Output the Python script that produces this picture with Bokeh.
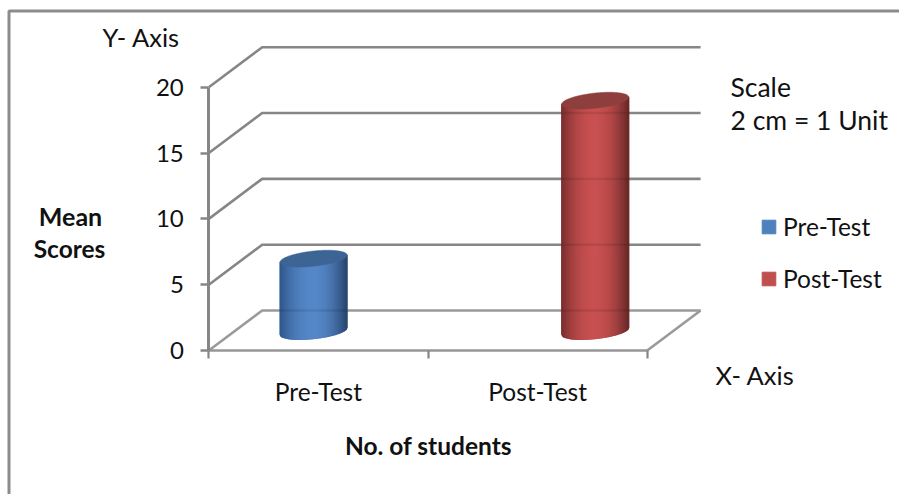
from bokeh.core.properties import value
from bokeh.embed import file_html
from bokeh.models import FixedTicker, Legend, LegendItem, Range1d
from bokeh.plotting import figure
from bokeh.resources import INLINE

# Chart values
categories = ["Pre-Test", "Post-Test"]
mean_scores = [5.5, 17.5]
y_ticks = [0, 5, 10, 15, 20]
bar_slots = [0.478, 1.763]
body_centre = [(85, 135, 200), (200, 80, 80)]
body_left = [(45, 85, 135), (120, 45, 45)]
body_right = [(40, 70, 110), (105, 40, 40)]
cap_colors = ["#3c6595", "#8e3e3c"]
swatch_colors = ["#4f81bd", "#c0504d"]

W, H = 899, 494
FONT = "Lato"
GRID = "#868686"
X0_PX, Y0_PX = 208.3, 350.0     # origin of the front plane
X_UNIT, Y_UNIT = 219.2, 13.165  # pixels per category and per score point
DX, DY = 53.4 / X_UNIT, 40.0 / Y_UNIT  # receding depth of the box


def dx(px):
    return (px - X0_PX) / X_UNIT


def dy(py):
    return (Y0_PX - py) / Y_UNIT


p = figure(width=W, height=H, output_backend="svg", toolbar_location=None,
           x_range=Range1d(dx(0), dx(W)), y_range=Range1d(dy(H), dy(0)),
           min_border=0, outline_line_color=None, background_fill_color="white")
p.grid.visible = False

# Frame around the chart area: only top and left sides are on the page
p.line([dx(8.5), dx(8.5), dx(W)], [dy(H), dy(10.5), dy(10.5)], line_color="#8c8c8c", line_width=3)

# Back wall gridlines and the diagonal wall returns
for v in y_ticks:
    p.line([0, DX, 2 + DX], [v, v + DY, v + DY], line_color=GRID if v else "#9a9a9a", line_width=2.6)
p.line([2, 2 + DX], [0, DY], line_color="#9a9a9a", line_width=2.6)

# Front axes, drawn inside the frame at the data origin
yax = p.yaxis[0]
yax.fixed_location = 0
yax.bounds = (0, 20)
yax.ticker = FixedTicker(ticks=y_ticks)
yax.axis_line_color = GRID
yax.axis_line_width = 3
yax.major_tick_line_color = GRID
yax.major_tick_line_width = 2.5
yax.major_tick_out = 8
yax.major_tick_in = 0
yax.minor_tick_out = 0
yax.minor_tick_in = 0
yax.major_label_standoff = 17
yax.major_label_text_font = FONT
yax.major_label_text_font_size = "24px"
yax.major_label_text_color = "#111111"

xax = p.xaxis[0]
xax.fixed_location = 0
xax.bounds = (0, 2)
xax.ticker = FixedTicker(ticks=[0.5, 1.5], minor_ticks=[0, 1, 2])
xax.major_label_overrides = {0.5: categories[0], 1.5: categories[1]}
xax.axis_line_color = "#969696"
xax.axis_line_width = 2.4
xax.major_tick_out = 0
xax.major_tick_in = 0
xax.minor_tick_line_color = GRID
xax.minor_tick_line_width = 2.2
xax.minor_tick_out = 8
xax.minor_tick_in = 0
xax.major_label_standoff = 18
xax.major_label_text_font = FONT
xax.major_label_text_font_size = "24.5px"
xax.major_label_text_color = "#111111"

# Shaded cylinders, built from thin vertical strips
A = 33.5 / X_UNIT       # half width
B = 7.6 / Y_UNIT        # half height of the cap
TILT = 3.5 / Y_UNIT     # rise of the cap towards its right edge
FLOOR = 1.48            # the bars stand in the middle of the floor
N = 67


def mix(a, b, t):
    return tuple(round(a[i] + (b[i] - a[i]) * t) for i in range(3))


for i, score in enumerate(mean_scores):
    xs, ys, colors = [], [], []
    for k in range(N):
        u0, u1 = -1 + 2 * k / N, -1 + 2 * (k + 1) / N
        um = (u0 + u1) / 2
        edge = body_left[i] if um < 0 else body_right[i]
        c = mix(body_centre[i], edge, abs(um) ** 2.0)
        lo = [FLOOR + TILT * u - B * (1 - u * u) ** 0.5 for u in (u0, u1)]
        hi = [FLOOR + score + TILT * u for u in (u1, u0)]
        xs.append([bar_slots[i] + A * u for u in (u0, u1, u1, u0)])
        ys.append(lo + hi)
        colors.append("#%02x%02x%02x" % c)
    p.patches(xs, ys, fill_color=colors, line_color=colors, line_width=1.3)

    # Cap of the cylinder
    cap_x, cap_y = [], []
    for k in range(2 * N):
        u = -1 + 2 * k / (2 * N - 1)
        cap_x.append(bar_slots[i] + A * u)
        cap_y.append(FLOOR + score + TILT * u + B * (1 - u * u) ** 0.5)
    for k in range(2 * N):
        u = 1 - 2 * k / (2 * N - 1)
        cap_x.append(bar_slots[i] + A * u)
        cap_y.append(FLOOR + score + TILT * u - B * (1 - u * u) ** 0.5)
    p.patch(cap_x, cap_y, fill_color=cap_colors[i], line_color=cap_colors[i], line_width=0.5)

    # Gridlines show faintly through the body
    for v in y_ticks:
        level = v + DY
        if FLOOR + TILT < level < FLOOR + score - TILT:
            p.line([bar_slots[i] - A, bar_slots[i] + A], [level, level],
                   line_color="#000000", line_alpha=0.09, line_width=2.4)

# Legend keys: the quads sit beyond the visible range, only their swatches appear
keys = [p.quad(left=[50], right=[51], top=[51], bottom=[50], fill_color=c, line_color=c)
        for c in swatch_colors]
legend = Legend(items=[LegendItem(label=categories[i], renderers=[keys[i]]) for i in range(2)],
                location=(752, H - 301), orientation="vertical", glyph_width=17, glyph_height=17,
                spacing=23, label_text_font=FONT, label_text_font_size="24.5px",
                label_text_color="#111111", label_standoff=6, padding=8, margin=0,
                background_fill_alpha=0, border_line_alpha=0, label_height=26)
p.add_layout(legend, "center")

# Free-standing captions
notes = [
    ("Y- Axis", 102, 36, "normal", "left", "25.5px"),
    ("Scale", 730, 86, "normal", "left", "26.5px"),
    ("2 cm = 1 Unit", 730, 119, "normal", "left", "26.5px"),
    ("X- Axis", 715, 374, "normal", "left", "25.5px"),
    ("Mean", 70, 215, "bold", "center", "25px"),
    ("Scores", 69, 248, "bold", "center", "24.5px"),
    ("No. of students", 428, 445, "bold", "center", "24.5px"),
]
for text, nx, ny, style, align, size in notes:
    p.text([dx(nx)], [dy(ny)], text=[text], text_font=value(FONT),
           text_font_size=size,
           text_font_style=style, text_align=align, text_baseline="middle", text_color="#111111")

open("out.html", "w").write(file_html(p, INLINE))
